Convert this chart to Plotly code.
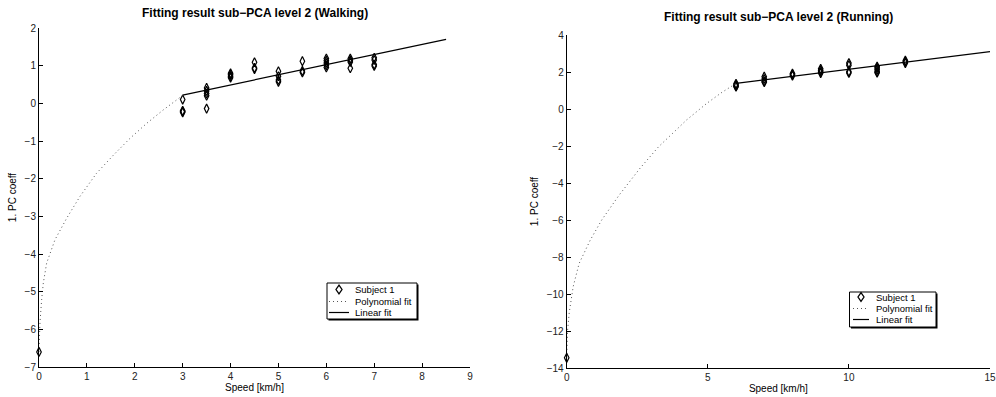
import plotly.graph_objects as go

# ---- Walking: measured coefficients per speed ----
walk_speed = [0, 3, 3, 3, 3, 3.5, 3.5, 3.5, 3.5, 3.5, 4, 4, 4, 4, 4.5, 4.5, 4.5,
              5, 5, 5, 5, 5.5, 5.5, 5.5, 6, 6, 6, 6, 6, 6.5, 6.5, 6.5, 6.5,
              7, 7, 7, 7]
walk_coeff = [-6.6, 0.10, -0.20, -0.24, -0.22, 0.41, 0.33, 0.26, 0.20, -0.14,
              0.80, 0.76, 0.72, 0.68, 1.09, 0.94, 0.91,
              0.85, 0.72, 0.62, 0.57, 1.12, 0.86, 0.82,
              1.19, 1.13, 1.07, 1.01, 0.95, 1.19, 1.14, 1.10, 0.93,
              1.21, 1.15, 1.03, 0.99]
walk_poly_x = [0, 0.005, 0.02, 0.056, 0.09, 0.16, 0.334, 0.578, 0.856, 1.20,
               1.55, 1.90, 2.25, 2.60, 3.0]
walk_poly_y = [-6.6, -6.3, -5.83, -5.20, -4.77, -4.24, -3.62, -3.05, -2.47,
               -1.86, -1.38, -0.93, -0.53, -0.17, 0.21]
walk_lin_x = [3, 8.5]
walk_lin_y = [0.22, 1.70]

# ---- Running: measured coefficients per speed ----
run_speed = [0, 6, 6, 6, 6, 7, 7, 7, 7, 8, 8, 8, 9, 9, 9, 9,
             10, 10, 10, 10, 11, 11, 11, 11, 11, 12, 12, 12]
run_coeff = [-13.45, 1.36, 1.30, 1.24, 1.20, 1.75, 1.62, 1.50, 1.45,
             1.92, 1.86, 1.80, 2.17, 2.08, 2.00, 1.94,
             2.48, 2.36, 2.02, 1.95, 2.30, 2.22, 2.12, 2.02, 1.96,
             2.62, 2.55, 2.48]
run_poly_x = [0, 0.01, 0.03, 0.09, 0.23, 0.44, 0.83, 1.24, 1.86, 2.60, 3.25,
              4.25, 4.96, 5.5, 6.0]
run_poly_y = [-13.45, -12.7, -12.0, -11.0, -9.6, -8.35, -7.1, -6.0, -4.65,
              -3.2, -2.05, -0.59, 0.30, 0.9, 1.38]
run_lin_x = [6, 15]
run_lin_y = [1.38, 3.10]

legend_labels = ["Subject 1", "Polynomial fit", "Linear fit"]

W, H = 996, 397
FONT = "Liberation Sans, Arial, Helvetica, sans-serif"
DOT_COLOR = "#555555"


def fx(px):
    return px / W


def fy(py):
    return 1 - py / H


fig = go.Figure()


def add_panel(xa, ya, sx, sy, px, py, lx, ly):
    fig.add_trace(go.Scatter(
        x=sx, y=sy, mode="markers", name=legend_labels[0],
        marker=dict(symbol="diamond-tall-open", size=6.5, color="black",
                    line=dict(width=1.2, color="black")),
        xaxis=xa, yaxis=ya, cliponaxis=False, showlegend=False))
    fig.add_trace(go.Scatter(
        x=px, y=py, mode="lines", name=legend_labels[1],
        line=dict(color=DOT_COLOR, width=1, dash="1px,3px"),
        xaxis=xa, yaxis=ya, showlegend=False))
    fig.add_trace(go.Scatter(
        x=lx, y=ly, mode="lines", name=legend_labels[2],
        line=dict(color="black", width=1.2),
        xaxis=xa, yaxis=ya, showlegend=False))


add_panel("x", "y", walk_speed, walk_coeff, walk_poly_x, walk_poly_y,
          walk_lin_x, walk_lin_y)
add_panel("x2", "y2", run_speed, run_coeff, run_poly_x, run_poly_y,
          run_lin_x, run_lin_y)

shapes = []
annotations = []


def legend_box(x0, y0, x1, y1, sample_x0, sample_x1, text_x, rows):
    """Boxed key in the corner of a panel (pixel positions)."""
    # drop shadow then frame
    shapes.append(dict(type="rect", xref="paper", yref="paper",
                       x0=fx(x0 + 1.5), x1=fx(x1 + 1.5), y0=fy(y0 + 1.5),
                       y1=fy(y1 + 1.5), fillcolor="black",
                       line=dict(width=0), layer="above"))
    shapes.append(dict(type="rect", xref="paper", yref="paper",
                       x0=fx(x0), x1=fx(x1), y0=fy(y0), y1=fy(y1),
                       fillcolor="white", line=dict(color="black", width=1),
                       layer="above"))
    # diamond marker sample
    cx = (sample_x0 + sample_x1) / 2
    r = rows[0]
    hw, hh = 3.0, 4.3
    path = "M {} {} L {} {} L {} {} L {} {} Z".format(
        fx(cx), fy(r - hh), fx(cx + hw), fy(r), fx(cx), fy(r + hh),
        fx(cx - hw), fy(r))
    shapes.append(dict(type="path", xref="paper", yref="paper", path=path,
                       line=dict(color="black", width=1.3), layer="above"))
    # dotted and solid line samples
    shapes.append(dict(type="line", xref="paper", yref="paper",
                       x0=fx(sample_x0), x1=fx(sample_x1), y0=fy(rows[1]),
                       y1=fy(rows[1]), layer="above",
                       line=dict(color=DOT_COLOR, width=1, dash="1px,3px")))
    shapes.append(dict(type="line", xref="paper", yref="paper",
                       x0=fx(sample_x0), x1=fx(sample_x1), y0=fy(rows[2]),
                       y1=fy(rows[2]), layer="above",
                       line=dict(color="black", width=1.2)))
    for label, r in zip(legend_labels, rows):
        annotations.append(dict(text=label, x=fx(text_x), y=fy(r),
                                xref="paper", yref="paper", xanchor="left",
                                yanchor="middle", showarrow=False,
                                font=dict(size=9.5, family=FONT,
                                          color="black")))


legend_box(327, 283, 417, 319, 329, 349, 353, [289.5, 301.5, 312.5])
legend_box(849.5, 292, 936, 327, 853, 869, 874, [297, 308.5, 319.5])

annotations += [
    dict(text="<b>Fitting result sub\u2212PCA level 2 (Walking)</b>",
         x=fx((39 + 470) / 2), y=fy(13), xref="paper", yref="paper",
         xanchor="center", yanchor="middle", showarrow=False,
         font=dict(size=12, family=FONT)),
    dict(text="<b>Fitting result sub\u2212PCA level 2 (Running)</b>",
         x=fx((566.7 + 990) / 2), y=fy(17), xref="paper", yref="paper",
         xanchor="center", yanchor="middle", showarrow=False,
         font=dict(size=12, family=FONT)),
]

axis_common = dict(showline=True, linecolor="black", linewidth=1,
                   ticks="inside", ticklen=4, tickcolor="black",
                   showgrid=False, zeroline=False, mirror=False,
                   tickfont=dict(size=10, color="#222", family=FONT),
                   automargin=False)

fig.update_layout(
    width=W, height=H,
    margin=dict(l=0, r=0, t=0, b=0),
    paper_bgcolor="white", plot_bgcolor="white",
    font=dict(family=FONT, color="black"),
    showlegend=False,
    xaxis=dict(domain=[fx(39), fx(470)], range=[0, 9], dtick=1,
               anchor="y",
               title=dict(text="Speed [km/h]", font=dict(size=10),
                          standoff=2),
               **axis_common),
    yaxis=dict(domain=[fy(367), fy(28)], range=[-7, 2], dtick=1,
               anchor="x",
               title=dict(text="1. PC coeff", font=dict(size=10),
                          standoff=6),
               **axis_common),
    xaxis2=dict(domain=[fx(566.7), fx(990)], range=[0, 15], dtick=5,
                anchor="y2",
                title=dict(text="Speed [km/h]", font=dict(size=10),
                           standoff=2),
                **axis_common),
    yaxis2=dict(domain=[fy(368), fy(35)], range=[-14, 4], dtick=2,
                anchor="x2",
                title=dict(text="1. PC coeff", font=dict(size=10),
                           standoff=6),
                **axis_common),
    shapes=shapes,
    annotations=annotations,
)

fig.write_html("out.html")
